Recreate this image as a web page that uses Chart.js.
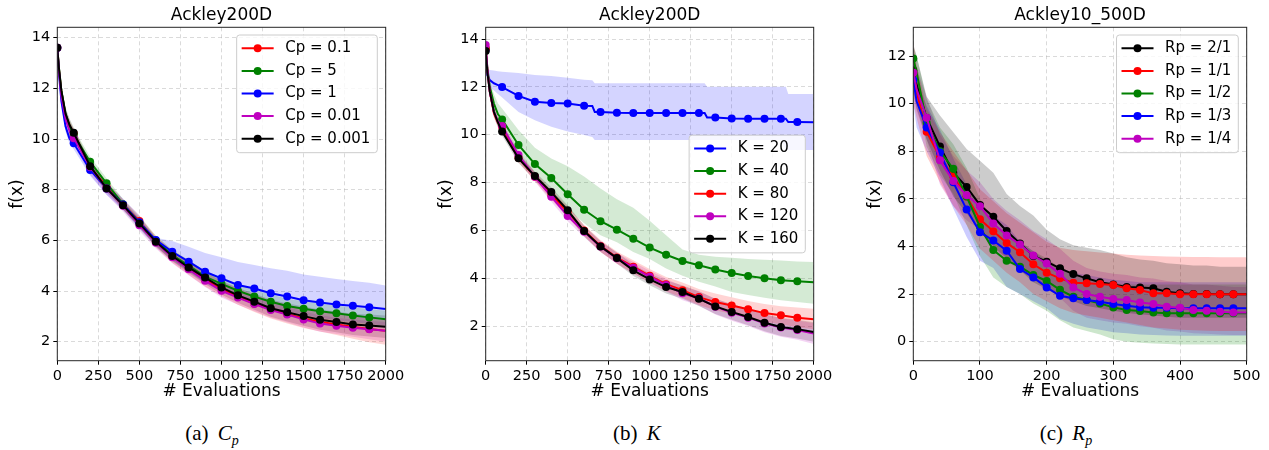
<!DOCTYPE html>
<html>
<head>
<meta charset="utf-8">
<script src="https://cdn.jsdelivr.net/npm/chart.js@4.4.0/dist/chart.umd.min.js"></script>
<style>
  body { margin: 0; background: #fff; width: 1269px; height: 450px; position: relative; overflow: hidden; }
  canvas { position: absolute; top: 0; }
  .cap { position: absolute; top: 421px; font-family: "Liberation Serif", serif; font-size: 21px;
         transform: translateX(-50%); white-space: nowrap; color: #000; }
  .cap i { margin-left: 4px; }
  .cap sub { font-size: 14px; }
</style>
</head>
<body>
<canvas id="chartCp" width="423" height="402" style="left:0px"></canvas>
<canvas id="chartK" width="423" height="402" style="left:423px"></canvas>
<canvas id="chartRp" width="423" height="402" style="left:846px"></canvas>
<div class="cap" style="left:212px">(a) <i>C<sub>p</sub></i></div>
<div class="cap" style="left:637px">(b) <i>K</i></div>
<div class="cap" style="left:1066px">(c) <i>R<sub>p</sub></i></div>

<script>
/* ---- (a) Cp sweep, Ackley200D ---- */
const xCp = [0,10,25,50,75,100,200,300,400,500,600,700,800,900,1000,1100,1200,1300,1400,1500,1600,1700,1800,1900,2000];
const cp0_1   = [13.6,12.75,11.85,10.95,10.5,10.22,8.9,8.12,7.42,6.76,5.95,5.36,4.9,4.46,4.1,3.78,3.51,3.28,3.09,2.92,2.79,2.68,2.59,2.5,2.43];
const cp0_1Hi = [13.7,12.9,12.0,11.1,10.7,10.4,9.08,8.3,7.62,6.98,6.17,5.6,5.16,4.74,4.4,4.1,3.85,3.64,3.46,3.3,3.18,3.08,3.0,2.92,2.86];
const cp0_1Lo = [13.5,12.6,11.7,10.8,10.3,10.04,8.72,7.94,7.22,6.54,5.73,5.12,4.64,4.18,3.8,3.46,3.17,2.92,2.72,2.54,2.4,2.26,2.12,1.98,1.88];
const cp5     = [13.6,12.8,11.9,11.0,10.5,10.16,9.1,8.25,7.43,6.7,5.99,5.42,5.0,4.57,4.28,4.01,3.78,3.58,3.41,3.3,3.2,3.12,3.03,2.96,2.89];
const cp5Hi   = [13.7,12.95,12.1,11.2,10.75,10.4,9.3,8.45,7.63,6.9,6.19,5.63,5.22,4.8,4.52,4.27,4.05,3.86,3.7,3.6,3.5,3.43,3.35,3.29,3.22];
const cp5Lo   = [13.5,12.65,11.7,10.8,10.3,9.92,8.9,8.05,7.23,6.5,5.79,5.21,4.78,4.34,4.04,3.75,3.51,3.3,3.12,3.0,2.9,2.81,2.71,2.63,2.56];
const cp1     = [13.6,12.6,11.5,10.5,10.0,9.83,8.78,8.05,7.42,6.71,6.01,5.55,5.16,4.76,4.5,4.24,4.1,3.91,3.78,3.64,3.55,3.47,3.42,3.36,3.29];
const cp1Hi   = [13.7,12.75,11.7,10.7,10.2,10.05,9.0,8.28,7.65,6.98,6.1,5.97,5.75,5.5,5.33,5.15,5.03,4.9,4.8,4.65,4.56,4.47,4.4,4.33,4.22];
const cp1Lo   = [13.5,12.45,11.3,10.3,9.8,9.6,8.55,7.8,7.2,6.45,5.75,5.2,4.75,4.3,4.0,3.72,3.55,3.35,3.2,3.05,2.95,2.85,2.78,2.7,2.62];
const cp0_01   = [13.6,12.7,11.7,10.8,10.3,10.03,8.9,8.05,7.37,6.6,5.91,5.33,4.86,4.41,4.01,3.74,3.49,3.25,3.07,2.88,2.72,2.63,2.55,2.49,2.43];
const cp0_01Hi = [13.7,12.85,11.9,11.0,10.55,10.25,9.1,8.25,7.57,6.8,6.1,5.53,5.07,4.64,4.26,4.0,3.77,3.54,3.37,3.19,3.04,2.95,2.88,2.83,2.78];
const cp0_01Lo = [13.5,12.5,11.4,10.5,10.0,9.75,8.6,7.8,7.14,6.37,5.68,5.1,4.62,4.16,3.74,3.46,3.2,2.95,2.76,2.56,2.39,2.3,2.2,2.1,2.0];
const cp0_001   = [13.6,12.8,11.9,11.0,10.55,10.25,8.93,8.05,7.39,6.67,5.95,5.38,4.93,4.53,4.14,3.83,3.58,3.32,3.16,3.01,2.87,2.78,2.68,2.64,2.59];
const cp0_001Hi = [13.7,13.0,12.15,11.25,10.8,10.45,9.1,8.2,7.55,6.85,6.12,5.58,5.15,4.78,4.42,4.12,3.9,3.66,3.52,3.39,3.27,3.19,3.1,3.07,3.03];
const cp0_001Lo = [13.5,12.6,11.65,10.75,10.3,10.05,8.76,7.9,7.23,6.49,5.78,5.18,4.71,4.28,3.86,3.54,3.26,2.98,2.8,2.63,2.47,2.37,2.26,2.21,2.15];

/* ---- (b) K sweep, Ackley200D ---- */
const xK = xCp;
const xK20 = [0,10,25,50,75,100,200,300,400,500,600,650,665,700,800,900,1000,1100,1200,1300,1335,1350,1400,1500,1600,1700,1800,1830,1845,1900,2000];
const k20   = [13.54,12.5,12.28,12.15,12.07,11.99,11.62,11.38,11.32,11.3,11.21,11.2,10.95,10.95,10.92,10.91,10.91,10.91,10.91,10.91,10.91,10.72,10.72,10.68,10.67,10.67,10.67,10.67,10.53,10.53,10.52];
const k20Hi = [13.6,12.75,12.7,12.68,12.65,12.63,12.58,12.5,12.45,12.38,12.3,12.28,12.15,12.15,12.15,12.15,12.15,12.15,12.15,12.15,12.15,12.0,12.0,12.0,12.0,12.0,12.0,12.0,11.7,11.7,11.7];
const k20Lo = [13.5,12.3,12.0,11.85,11.7,11.55,10.95,10.6,10.33,10.13,9.99,9.9,9.78,9.78,9.78,9.78,9.78,9.78,9.78,9.78,9.78,9.78,9.78,9.78,9.78,9.78,9.78,9.36,9.36,9.36,9.36];
const k40   = [13.6,12.8,12.0,11.3,10.85,10.64,9.57,8.77,8.19,7.51,6.86,6.38,6.03,5.65,5.28,4.98,4.72,4.54,4.36,4.22,4.09,4.0,3.91,3.87,3.83];
const k40Hi = [13.7,13.0,12.3,11.7,11.3,11.1,10.2,9.45,9.0,8.68,8.25,7.75,7.3,6.95,6.4,5.8,5.2,4.98,4.9,4.85,4.8,4.77,4.74,4.7,4.68];
const k40Lo = [13.5,12.6,11.7,10.9,10.4,10.2,9.1,8.2,7.6,6.9,6.3,5.8,5.5,5.1,4.8,4.4,4.1,3.85,3.65,3.42,3.3,3.18,3.08,3.0,2.93];
const k80   = [13.6,12.7,11.8,10.9,10.5,10.33,9.04,8.24,7.48,6.78,5.99,5.35,4.86,4.48,4.1,3.75,3.5,3.21,3.0,2.86,2.7,2.54,2.45,2.35,2.28];
const k80Hi = [13.7,12.85,12.0,11.1,10.7,10.5,9.22,8.42,7.68,7.0,6.22,5.6,5.12,4.75,4.38,4.05,3.82,3.55,3.36,3.2,3.05,2.92,2.83,2.77,2.72];
const k80Lo = [13.5,12.5,11.6,10.7,10.3,10.15,8.85,8.05,7.28,6.56,5.76,5.1,4.6,4.2,3.82,3.45,3.18,2.88,2.66,2.5,2.35,2.18,2.07,1.95,1.86];
const k120   = [13.75,12.75,11.8,10.95,10.55,10.36,9.15,8.24,7.41,6.6,5.94,5.32,4.83,4.44,4.06,3.71,3.37,3.16,2.81,2.56,2.35,2.11,1.94,1.83,1.69];
const k120Hi = [13.85,12.95,12.0,11.15,10.75,10.55,9.35,8.44,7.61,6.82,6.16,5.54,5.06,4.68,4.31,3.98,3.66,3.46,3.14,2.9,2.7,2.48,2.33,2.23,2.12];
const k120Lo = [13.65,12.55,11.6,10.75,10.35,10.17,8.95,8.04,7.2,6.38,5.72,5.1,4.6,4.2,3.81,3.44,3.08,2.86,2.48,2.22,2.0,1.74,1.55,1.43,1.25];
const k160   = [13.5,12.63,11.8,10.96,10.5,10.13,9.01,8.27,7.6,6.84,5.97,5.33,4.84,4.33,3.95,3.63,3.42,3.14,2.82,2.59,2.38,2.14,1.96,1.87,1.75];
const k160Hi = [13.6,12.85,12.0,11.15,10.7,10.3,9.2,8.45,7.8,7.05,6.2,5.55,5.07,4.57,4.2,3.9,3.7,3.44,3.14,2.92,2.73,2.5,2.34,2.26,2.16];
const k160Lo = [13.4,12.4,11.6,10.77,10.3,9.96,8.82,8.09,7.4,6.63,5.74,5.11,4.61,4.09,3.7,3.36,3.14,2.84,2.5,2.26,2.03,1.78,1.58,1.48,1.34];

/* ---- (c) Rp sweep, Ackley10_500D ---- */
const xRp = [0,5,20,40,60,80,100,120,140,160,180,200,220,240,260,280,300,320,340,360,380,400,420,440,460,480,500];
const rp2_1   = [11.4,10.8,9.4,8.2,7.1,6.5,5.74,5.25,4.65,4.13,3.6,3.36,3.08,2.84,2.66,2.5,2.4,2.3,2.28,2.24,2.1,2.03,2.0,2.0,1.99,1.99,1.99];
const rp2_1Hi = [12.5,12.0,10.3,9.5,8.8,8.1,7.6,7.1,6.2,5.7,5.3,4.7,4.3,4.05,3.95,3.85,3.7,3.55,3.45,3.4,3.3,3.25,3.2,3.2,3.15,3.15,3.15];
const rp2_1Lo = [10.5,9.8,8.5,7.2,6.1,5.4,4.6,4.0,3.5,3.0,2.5,2.2,1.9,1.7,1.5,1.4,1.3,1.2,1.15,1.1,1.05,1.0,1.0,1.0,1.0,1.0,1.0];
const rp1_1   = [11.3,10.5,8.82,7.76,6.95,6.1,5.14,4.64,4.15,3.76,3.25,2.9,2.66,2.48,2.45,2.42,2.38,2.24,2.17,2.03,2.03,1.99,1.99,1.99,1.99,1.99,1.99];
const rp1_1Hi = [12.6,11.6,9.8,8.8,8.0,7.2,6.4,5.9,5.4,5.0,4.6,4.2,3.95,3.85,3.8,3.75,3.7,3.65,3.62,3.6,3.58,3.57,3.56,3.56,3.55,3.55,3.55];
const rp1_1Lo = [10.0,9.4,7.8,6.7,5.7,4.9,3.9,3.4,2.9,2.5,2.0,1.7,1.4,1.2,1.1,1.0,0.9,0.8,0.7,0.6,0.55,0.5,0.48,0.46,0.45,0.45,0.45];
const rp1_2   = [11.9,11.3,9.2,8.0,7.27,6.1,4.82,3.85,3.4,3.15,2.8,2.55,2.18,1.89,1.75,1.6,1.44,1.33,1.29,1.23,1.19,1.19,1.19,1.19,1.19,1.19,1.19];
const rp1_2Hi = [12.4,12.0,10.2,9.0,8.3,7.3,6.0,5.0,4.5,4.2,3.8,3.5,3.1,2.8,2.7,2.55,2.45,2.4,2.4,2.4,2.4,2.4,2.4,2.4,2.4,2.4,2.4];
const rp1_2Lo = [11.3,10.4,8.2,7.0,6.2,4.9,3.6,2.7,2.3,2.0,1.6,1.3,0.9,0.6,0.45,0.3,0.1,0.0,-0.05,-0.08,-0.1,-0.12,-0.12,-0.12,-0.12,-0.12,-0.12];
const rp1_3   = [11.0,10.1,9.0,7.95,6.7,5.55,4.6,4.25,3.82,3.05,2.7,2.28,1.93,1.82,1.75,1.68,1.58,1.51,1.45,1.43,1.42,1.4,1.4,1.4,1.4,1.4,1.4];
const rp1_3Hi = [11.9,11.0,9.9,8.9,7.7,6.6,5.7,5.3,4.9,4.2,3.8,3.4,3.0,2.9,2.8,2.7,2.6,2.55,2.5,2.5,2.5,2.5,2.5,2.5,2.5,2.5,2.5];
const rp1_3Lo = [10.0,9.0,8.0,6.9,5.6,4.4,3.4,3.1,2.3,2.0,1.7,1.4,0.95,0.75,0.6,0.5,0.4,0.35,0.3,0.28,0.26,0.25,0.25,0.25,0.25,0.25,0.25];
const rp1_4   = [11.3,10.6,9.41,7.62,6.75,6.15,5.69,4.97,4.46,4.08,3.62,3.28,2.85,2.28,2.0,1.89,1.79,1.75,1.65,1.58,1.47,1.43,1.33,1.3,1.26,1.23,1.23];
const rp1_4Hi = [12.2,11.5,10.3,8.7,7.8,7.2,6.7,6.0,5.5,5.1,4.65,4.3,3.9,3.4,3.1,2.95,2.85,2.8,2.7,2.65,2.55,2.5,2.4,2.4,2.35,2.3,2.3];
const rp1_4Lo = [10.4,9.7,8.5,6.6,5.7,5.1,4.7,4.0,3.4,3.0,2.6,2.3,1.85,1.3,1.0,0.9,0.8,0.75,0.65,0.58,0.47,0.43,0.35,0.33,0.3,0.28,0.28];

const RED = '#ff0000', GREEN = '#008000', BLUE = '#0000ff', MAGENTA = '#bf00bf', BLACK = '#000000';
const FONT = '"DejaVu Sans", sans-serif';

Chart.defaults.font.family = FONT;
Chart.defaults.color = '#000';

function rgba(hex, a) {
    const n = parseInt(hex.slice(1), 16);
    return `rgba(${(n >> 16) & 255},${(n >> 8) & 255},${n & 255},${a})`;
}
function pts(xs, ys) { return xs.map((x, i) => ({ x: x, y: ys[i] })); }

// bands first (lo then hi filled to lo), then the mean lines; last series ends on top
function buildDatasets(xs, series, markEvery, xEnd, alpha) {
    const out = [];
    series.forEach(s => {
        const sx = s.x || xs;
        out.push({ data: pts(sx, s.lo), borderColor: 'rgba(0,0,0,0)', borderWidth: 1, pointRadius: 0, fill: false, order: 100 });
        out.push({ data: pts(sx, s.hi), borderColor: 'rgba(0,0,0,0)', borderWidth: 1, pointRadius: 0, fill: '-1',
                   backgroundColor: rgba(s.color, alpha), order: 100 });
    });
    series.forEach((s, i) => {
        const sx = s.x || xs;
        out.push({
            label: s.label, data: pts(sx, s.y),
            borderColor: s.color, backgroundColor: s.color, borderWidth: 2,
            pointRadius: sx.map(x => (x % markEvery === 0 && x < xEnd) ? 4 : 0),
            pointBorderWidth: 0, pointBackgroundColor: s.color, fill: false,
            order: series.length - i
        });
    });
    return out;
}

const framePlugin = {
    id: 'frame',
    afterDatasetsDraw(chart) {
        const a = chart.chartArea, ctx = chart.ctx;
        ctx.save();
        ctx.strokeStyle = '#262626';
        ctx.lineWidth = 1;
        ctx.strokeRect(a.left, a.top, a.right - a.left, a.bottom - a.top);
        ctx.restore();
    }
};

const boxLegend = {
    id: 'boxLegend',
    afterDraw(chart, args, opts) {
        const ctx = chart.ctx, a = chart.chartArea;
        const items = chart.data.datasets.filter(d => d.label);
        const rowH = 22.6;
        ctx.save();
        ctx.font = '15px ' + FONT;
        const textW = Math.max(...items.map(d => ctx.measureText(d.label).width));
        const w = 5 + 32 + 11.6 + textW + 7;
        const h = items.length * rowH + 4.7;
        const x = a.right - 8.4 - w;
        const y = opts.vpos === 'center' ? (a.top + a.bottom) / 2 - h / 2 : a.top + 7.7;
        ctx.beginPath();
        ctx.roundRect(x, y, w, h, 3);
        ctx.fillStyle = 'rgba(255,255,255,0.8)';
        ctx.fill();
        ctx.strokeStyle = '#cccccc';
        ctx.lineWidth = 1;
        ctx.stroke();
        items.forEach((d, i) => {
            const ly = y + 2 + rowH * (i + 0.5);
            ctx.strokeStyle = d.borderColor;
            ctx.lineWidth = 2;
            ctx.beginPath(); ctx.moveTo(x + 5, ly); ctx.lineTo(x + 37, ly); ctx.stroke();
            ctx.fillStyle = d.borderColor;
            ctx.beginPath(); ctx.arc(x + 21, ly, 4, 0, Math.PI * 2); ctx.fill();
            ctx.fillStyle = '#000';
            ctx.textBaseline = 'middle';
            ctx.textAlign = 'left';
            ctx.fillText(d.label, x + 48.6, ly);
        });
        ctx.restore();
    }
};

function makeChart(id, cfg) {
    return new Chart(document.getElementById(id), {
        type: 'line',
        data: { datasets: buildDatasets(cfg.xs, cfg.series, cfg.markEvery, cfg.xMax, cfg.alpha) },
        plugins: [framePlugin, boxLegend],
        options: {
            responsive: false,
            animation: false,
            layout: { padding: { left: 0, right: cfg.padRight, top: 0, bottom: 0 } },
            plugins: {
                legend: { display: false },
                tooltip: { enabled: false },
                title: { display: true, text: cfg.title, fullSize: false, color: '#000',
                         font: { size: 17, weight: 'normal' }, padding: { top: 5.8, bottom: 1.1 } },
                boxLegend: { vpos: cfg.legendPos }
            },
            scales: {
                x: {
                    type: 'linear', min: 0, max: cfg.xMax,
                    afterFit: s => { s.height = 41.3; },
                    ticks: { stepSize: cfg.xStep, autoSkip: false, maxRotation: 0, padding: 3, font: { size: 14.5 }, color: '#000',
                             callback: v => String(v) },
                    grid: { color: 'rgba(176,176,176,0.6)', lineWidth: 0.8, tickColor: '#000', tickLength: 4, tickWidth: 1 },
                    border: { display: false, dash: [4, 3] },
                    title: { display: true, text: '# Evaluations', font: { size: 17 }, padding: { top: 0, bottom: 0 } }
                },
                y: {
                    type: 'linear', min: cfg.yMin, max: cfg.yMax,
                    afterFit: s => { s.width = cfg.yWidth; },
                    ticks: { stepSize: 2, includeBounds: false, padding: 3, font: { size: 14.5 }, color: '#000',
                             callback: v => String(v) },
                    grid: { color: 'rgba(176,176,176,0.6)', lineWidth: 0.8, tickColor: '#000', tickLength: 4, tickWidth: 1 },
                    border: { display: false, dash: [4, 3] },
                    title: { display: true, text: 'f(x)', font: { size: 17 }, padding: { top: cfg.yTitlePad, bottom: 0 } }
                }
            }
        }
    });
}

makeChart('chartCp', {
    title: 'Ackley200D', xs: xCp, xMax: 2000, xStep: 250, markEvery: 100, alpha: 0.17,
    yMin: 1.25, yMax: 14.41, yWidth: 57.3, yTitlePad: 7.8, padRight: 37.3, legendPos: 'top',
    series: [
        { label: 'Cp = 0.1',   color: RED,     y: cp0_1,   lo: cp0_1Lo,   hi: cp0_1Hi },
        { label: 'Cp = 5',     color: GREEN,   y: cp5,     lo: cp5Lo,     hi: cp5Hi },
        { label: 'Cp = 1',     color: BLUE,    y: cp1,     lo: cp1Lo,     hi: cp1Hi },
        { label: 'Cp = 0.01',  color: MAGENTA, y: cp0_01,  lo: cp0_01Lo,  hi: cp0_01Hi },
        { label: 'Cp = 0.001', color: BLACK,   y: cp0_001, lo: cp0_001Lo, hi: cp0_001Hi }
    ]
});

makeChart('chartK', {
    title: 'Ackley200D', xs: xK, xMax: 2000, xStep: 250, markEvery: 100, alpha: 0.17,
    yMin: 0.55, yMax: 14.49, yWidth: 62.7, yTitlePad: 13.3, padRight: 32.3, legendPos: 'center',
    series: [
        { label: 'K = 20',  color: BLUE,    x: xK20, y: k20, lo: k20Lo, hi: k20Hi },
        { label: 'K = 40',  color: GREEN,   y: k40,  lo: k40Lo,  hi: k40Hi },
        { label: 'K = 80',  color: RED,     y: k80,  lo: k80Lo,  hi: k80Hi },
        { label: 'K = 120', color: MAGENTA, y: k120, lo: k120Lo, hi: k120Hi },
        { label: 'K = 160', color: BLACK,   y: k160, lo: k160Lo, hi: k160Hi }
    ]
});

makeChart('chartRp', {
    title: 'Ackley10_500D', xs: xRp, xMax: 500, xStep: 100, markEvery: 20, alpha: 0.2,
    yMin: -0.8, yMax: 13.21, yWidth: 67.3, yTitlePad: 19.3, padRight: 22.3, legendPos: 'top',
    series: [
        { label: 'Rp = 2/1', color: BLACK,   y: rp2_1, lo: rp2_1Lo, hi: rp2_1Hi },
        { label: 'Rp = 1/1', color: RED,     y: rp1_1, lo: rp1_1Lo, hi: rp1_1Hi },
        { label: 'Rp = 1/2', color: GREEN,   y: rp1_2, lo: rp1_2Lo, hi: rp1_2Hi },
        { label: 'Rp = 1/3', color: BLUE,    y: rp1_3, lo: rp1_3Lo, hi: rp1_3Hi },
        { label: 'Rp = 1/4', color: MAGENTA, y: rp1_4, lo: rp1_4Lo, hi: rp1_4Hi }
    ]
});
</script>
</body>
</html>
